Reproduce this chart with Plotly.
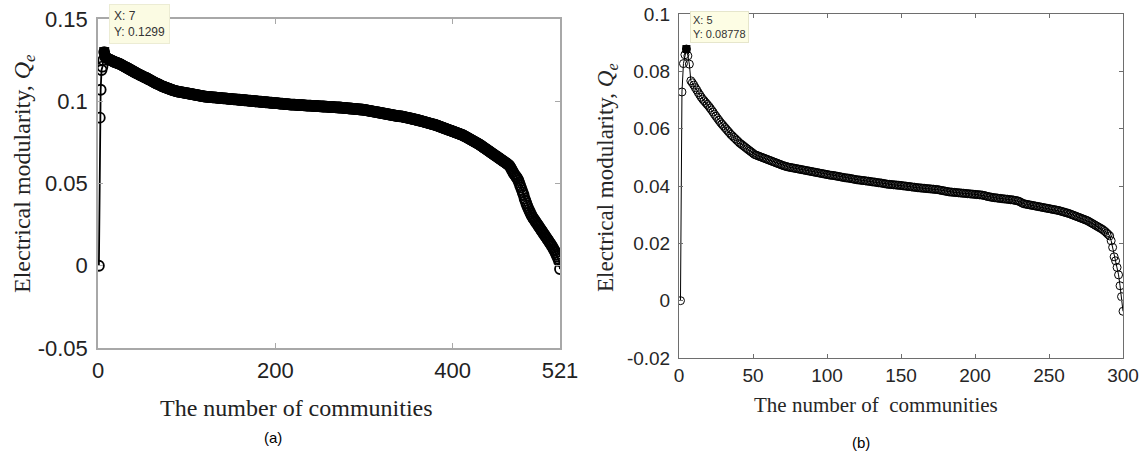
import plotly.graph_objects as go

# ---------------- data: panel (a) ----------------
qe_a = [
    0.0000, 0.0900, 0.1070, 0.1190, 0.1210, 0.1250, 0.1299, 0.1270, 0.1266, 0.1262,
    0.1259, 0.1256, 0.1253, 0.1251, 0.1249, 0.1246, 0.1243, 0.1240, 0.1238, 0.1236,
    0.1234, 0.1232, 0.1230, 0.1228, 0.1226, 0.1223, 0.1220, 0.1217, 0.1214, 0.1211,
    0.1208, 0.1205, 0.1202, 0.1199, 0.1196, 0.1193, 0.1190, 0.1187, 0.1184, 0.1181,
    0.1178, 0.1175, 0.1172, 0.1169, 0.1166, 0.1163, 0.1160, 0.1158, 0.1156, 0.1153,
    0.1150, 0.1147, 0.1145, 0.1143, 0.1140, 0.1137, 0.1134, 0.1131, 0.1128, 0.1125,
    0.1122, 0.1119, 0.1116, 0.1113, 0.1110, 0.1108, 0.1106, 0.1104, 0.1101, 0.1098,
    0.1095, 0.1092, 0.1090, 0.1088, 0.1086, 0.1084, 0.1082, 0.1080, 0.1078, 0.1076,
    0.1074, 0.1072, 0.1070, 0.1068, 0.1066, 0.1065, 0.1063, 0.1062, 0.1060, 0.1059,
    0.1058, 0.1057, 0.1056, 0.1055, 0.1054, 0.1053, 0.1052, 0.1051, 0.1050, 0.1049,
    0.1048, 0.1047, 0.1046, 0.1045, 0.1044, 0.1043, 0.1042, 0.1041, 0.1040, 0.1039,
    0.1038, 0.1037, 0.1036, 0.1035, 0.1034, 0.1033, 0.1032, 0.1031, 0.1030, 0.1029,
    0.1028, 0.1028, 0.1027, 0.1027, 0.1026, 0.1026, 0.1025, 0.1025, 0.1024, 0.1024,
    0.1023, 0.1023, 0.1022, 0.1022, 0.1021, 0.1021, 0.1020, 0.1020, 0.1019, 0.1019,
    0.1018, 0.1018, 0.1017, 0.1017, 0.1016, 0.1016, 0.1015, 0.1015, 0.1014, 0.1014,
    0.1013, 0.1013, 0.1012, 0.1012, 0.1011, 0.1011, 0.1010, 0.1010, 0.1009, 0.1009,
    0.1008, 0.1008, 0.1007, 0.1007, 0.1006, 0.1006, 0.1005, 0.1005, 0.1004, 0.1004,
    0.1003, 0.1003, 0.1002, 0.1002, 0.1001, 0.1001, 0.1000, 0.1000, 0.0999, 0.0999,
    0.0998, 0.0998, 0.0997, 0.0997, 0.0996, 0.0996, 0.0995, 0.0995, 0.0994, 0.0994,
    0.0993, 0.0993, 0.0992, 0.0992, 0.0991, 0.0991, 0.0990, 0.0990, 0.0989, 0.0989,
    0.0988, 0.0988, 0.0987, 0.0987, 0.0986, 0.0986, 0.0985, 0.0985, 0.0984, 0.0984,
    0.0983, 0.0983, 0.0982, 0.0982, 0.0981, 0.0981, 0.0980, 0.0980, 0.0980, 0.0979,
    0.0979, 0.0979, 0.0978, 0.0978, 0.0978, 0.0977, 0.0977, 0.0977, 0.0976, 0.0976,
    0.0976, 0.0975, 0.0975, 0.0975, 0.0974, 0.0974, 0.0974, 0.0973, 0.0973, 0.0973,
    0.0972, 0.0972, 0.0972, 0.0971, 0.0971, 0.0971, 0.0970, 0.0970, 0.0970, 0.0969,
    0.0969, 0.0969, 0.0968, 0.0968, 0.0968, 0.0967, 0.0967, 0.0967, 0.0966, 0.0966,
    0.0966, 0.0965, 0.0965, 0.0965, 0.0964, 0.0964, 0.0964, 0.0963, 0.0963, 0.0963,
    0.0962, 0.0962, 0.0962, 0.0961, 0.0961, 0.0960, 0.0960, 0.0959, 0.0959, 0.0958,
    0.0958, 0.0957, 0.0957, 0.0956, 0.0956, 0.0955, 0.0955, 0.0954, 0.0954, 0.0953,
    0.0953, 0.0952, 0.0952, 0.0951, 0.0951, 0.0950, 0.0950, 0.0949, 0.0949, 0.0948,
    0.0947, 0.0946, 0.0945, 0.0944, 0.0943, 0.0942, 0.0941, 0.0940, 0.0939, 0.0938,
    0.0937, 0.0936, 0.0935, 0.0934, 0.0933, 0.0932, 0.0931, 0.0930, 0.0929, 0.0928,
    0.0927, 0.0926, 0.0925, 0.0924, 0.0923, 0.0922, 0.0921, 0.0920, 0.0919, 0.0918,
    0.0917, 0.0916, 0.0915, 0.0914, 0.0913, 0.0912, 0.0911, 0.0910, 0.0909, 0.0908,
    0.0909, 0.0908, 0.0907, 0.0906, 0.0905, 0.0903, 0.0902, 0.0901, 0.0900, 0.0899,
    0.0897, 0.0896, 0.0895, 0.0894, 0.0892, 0.0891, 0.0890, 0.0889, 0.0887, 0.0886,
    0.0885, 0.0883, 0.0882, 0.0881, 0.0879, 0.0878, 0.0876, 0.0875, 0.0873, 0.0872,
    0.0870, 0.0869, 0.0867, 0.0866, 0.0864, 0.0863, 0.0861, 0.0860, 0.0858, 0.0857,
    0.0855, 0.0853, 0.0851, 0.0849, 0.0847, 0.0845, 0.0843, 0.0841, 0.0839, 0.0837,
    0.0835, 0.0833, 0.0831, 0.0829, 0.0827, 0.0825, 0.0823, 0.0821, 0.0819, 0.0817,
    0.0815, 0.0813, 0.0811, 0.0809, 0.0807, 0.0805, 0.0803, 0.0801, 0.0799, 0.0797,
    0.0795, 0.0792, 0.0789, 0.0786, 0.0783, 0.0780, 0.0777, 0.0774, 0.0771, 0.0768,
    0.0765, 0.0762, 0.0759, 0.0756, 0.0753, 0.0750, 0.0747, 0.0744, 0.0741, 0.0738,
    0.0734, 0.0730, 0.0727, 0.0723, 0.0719, 0.0715, 0.0712, 0.0708, 0.0704, 0.0700,
    0.0697, 0.0693, 0.0689, 0.0685, 0.0682, 0.0678, 0.0674, 0.0670, 0.0667, 0.0663,
    0.0659, 0.0655, 0.0652, 0.0648, 0.0644, 0.0640, 0.0637, 0.0633, 0.0629, 0.0625,
    0.0621, 0.0617, 0.0613, 0.0609, 0.0600, 0.0590, 0.0580, 0.0570, 0.0560, 0.0552,
    0.0545, 0.0538, 0.0530, 0.0520, 0.0505, 0.0490, 0.0475, 0.0460, 0.0445, 0.0430,
    0.0410, 0.0395, 0.0380, 0.0365, 0.0352, 0.0340, 0.0328, 0.0317, 0.0306, 0.0296,
    0.0288, 0.0280, 0.0272, 0.0264, 0.0256, 0.0248, 0.0240, 0.0232, 0.0224, 0.0216,
    0.0208, 0.0200, 0.0192, 0.0184, 0.0176, 0.0168, 0.0160, 0.0152, 0.0144, 0.0136,
    0.0128, 0.0119, 0.0110, 0.0100, 0.0090, 0.0079, 0.0067, 0.0055, 0.0042, 0.0028,
    -0.0020,
]
x_a = list(range(1, len(qe_a) + 1))
xticks_a = [0, 200, 400, 521]
yticks_a = [-0.05, 0, 0.05, 0.1, 0.15]
yticklabels_a = ["-0.05", "0", "0.05", "0.1", "0.15"]

# ---------------- data: panel (b) ----------------
qe_b = [
    0.0000, 0.0728, 0.0827, 0.0858, 0.08778, 0.0854, 0.0825, 0.0767, 0.0760, 0.0752,
    0.0743, 0.0735, 0.0726, 0.0718, 0.0710, 0.0703, 0.0697, 0.0691, 0.0685, 0.0679,
    0.0672, 0.0665, 0.0658, 0.0650, 0.0643, 0.0636, 0.0629, 0.0622, 0.0616, 0.0610,
    0.0604, 0.0598, 0.0592, 0.0586, 0.0580, 0.0575, 0.0570, 0.0565, 0.0560, 0.0555,
    0.0550, 0.0546, 0.0542, 0.0538, 0.0534, 0.0530, 0.0526, 0.0522, 0.0518, 0.0514,
    0.0510, 0.0508, 0.0506, 0.0504, 0.0502, 0.0500, 0.0498, 0.0496, 0.0494, 0.0492,
    0.0490, 0.0488, 0.0486, 0.0484, 0.0482, 0.0480, 0.0478, 0.0476, 0.0474, 0.0472,
    0.0470, 0.0469, 0.0467, 0.0466, 0.0465, 0.0464, 0.0463, 0.0462, 0.0461, 0.0460,
    0.0459, 0.0458, 0.0457, 0.0456, 0.0455, 0.0454, 0.0453, 0.0452, 0.0451, 0.0450,
    0.0449, 0.0448, 0.0447, 0.0446, 0.0445, 0.0444, 0.0443, 0.0442, 0.0441, 0.0440,
    0.0439, 0.0438, 0.0437, 0.0437, 0.0436, 0.0435, 0.0434, 0.0433, 0.0432, 0.0431,
    0.0430, 0.0429, 0.0428, 0.0428, 0.0427, 0.0426, 0.0425, 0.0424, 0.0423, 0.0422,
    0.0421, 0.0421, 0.0420, 0.0419, 0.0419, 0.0418, 0.0417, 0.0417, 0.0416, 0.0415,
    0.0414, 0.0414, 0.0413, 0.0412, 0.0411, 0.0411, 0.0410, 0.0409, 0.0408, 0.0407,
    0.0406, 0.0406, 0.0405, 0.0405, 0.0404, 0.0404, 0.0403, 0.0403, 0.0402, 0.0402,
    0.0401, 0.0400, 0.0400, 0.0399, 0.0398, 0.0398, 0.0397, 0.0396, 0.0396, 0.0395,
    0.0394, 0.0394, 0.0393, 0.0393, 0.0392, 0.0392, 0.0391, 0.0391, 0.0390, 0.0390,
    0.0389, 0.0389, 0.0388, 0.0388, 0.0387, 0.0386, 0.0385, 0.0384, 0.0383, 0.0382,
    0.0381, 0.0380, 0.0379, 0.0379, 0.0378, 0.0378, 0.0377, 0.0377, 0.0376, 0.0376,
    0.0375, 0.0375, 0.0374, 0.0374, 0.0373, 0.0373, 0.0372, 0.0372, 0.0371, 0.0371,
    0.0370, 0.0370, 0.0369, 0.0369, 0.0368, 0.0367, 0.0366, 0.0364, 0.0363, 0.0362,
    0.0361, 0.0360, 0.0359, 0.0359, 0.0358, 0.0357, 0.0357, 0.0356, 0.0355, 0.0355,
    0.0354, 0.0354, 0.0353, 0.0352, 0.0352, 0.0351, 0.0350, 0.0349, 0.0348, 0.0346,
    0.0343, 0.0340, 0.0338, 0.0337, 0.0336, 0.0335, 0.0334, 0.0333, 0.0332, 0.0331,
    0.0330, 0.0329, 0.0328, 0.0327, 0.0326, 0.0325, 0.0324, 0.0323, 0.0322, 0.0321,
    0.0320, 0.0319, 0.0318, 0.0317, 0.0316, 0.0315, 0.0314, 0.0312, 0.0311, 0.0309,
    0.0308, 0.0306, 0.0305, 0.0303, 0.0301, 0.0299, 0.0297, 0.0295, 0.0293, 0.0291,
    0.0289, 0.0287, 0.0285, 0.0283, 0.0281, 0.0279, 0.0276, 0.0273, 0.0270, 0.0267,
    0.0264, 0.0261, 0.0258, 0.0255, 0.0252, 0.0249, 0.0245, 0.0241, 0.0236, 0.0231,
    0.0226, 0.0209, 0.0186, 0.0153, 0.0139, 0.0116, 0.0090, 0.0052, 0.0014, -0.0037,
]
x_b = list(range(1, len(qe_b) + 1))
xticks_b = [0, 50, 100, 150, 200, 250, 300]
yticks_b = [-0.02, 0, 0.02, 0.04, 0.06, 0.08, 0.1]
yticklabels_b = ["-0.02", "0", "0.02", "0.04", "0.06", "0.08", "0.1"]

xtitle_a = "The number of communities"
xtitle_b = "The number of  communities"
ytitle = "Electrical modularity, <i>Q<sub>e</sub></i>"

W, H = 1145, 455


def px_x(p):
    return p / W


def px_y(p):
    return 1 - p / H


# peaks (datatips)
ia = max(range(len(qe_a)), key=lambda i: qe_a[i])
ib = max(range(len(qe_b)), key=lambda i: qe_b[i])

fig = go.Figure()

fig.add_trace(go.Scatter(
    x=x_a, y=qe_a, mode="lines+markers", xaxis="x", yaxis="y",
    line=dict(color="black", width=1.8),
    marker=dict(symbol="circle-open", size=10, color="black", line=dict(width=1.8)),
    showlegend=False, hoverinfo="skip"))
fig.add_trace(go.Scatter(
    x=[x_a[ia]], y=[qe_a[ia]], mode="markers", xaxis="x", yaxis="y",
    marker=dict(symbol="square", size=10, color="black"),
    showlegend=False, hoverinfo="skip"))

fig.add_trace(go.Scatter(
    x=x_b, y=qe_b, mode="lines+markers", xaxis="x2", yaxis="y2",
    line=dict(color="black", width=1),
    marker=dict(symbol="circle-open", size=8, color="black", line=dict(width=1)),
    showlegend=False, hoverinfo="skip"))
fig.add_trace(go.Scatter(
    x=[x_b[ib]], y=[qe_b[ib]], mode="markers", xaxis="x2", yaxis="y2",
    marker=dict(symbol="square", size=8, color="black"),
    showlegend=False, hoverinfo="skip"))

axis_common = dict(showgrid=False, zeroline=False, showline=True, mirror="ticks",
                   ticks="inside", automargin=False)

fig.update_layout(
    width=W, height=H,
    margin=dict(l=0, r=0, t=0, b=0, autoexpand=False),
    paper_bgcolor="white", plot_bgcolor="white",
    xaxis=dict(domain=[px_x(98), px_x(560)], range=[0, 521],
               tickvals=xticks_a, ticktext=[str(v) for v in xticks_a],
               ticklabelstandoff=2,
               linecolor="#a8a8a8", linewidth=1.5, tickcolor="#a8a8a8", ticklen=5,
               tickfont=dict(family="Liberation Sans, Arial", size=22, color="#222"),
               anchor="y", **axis_common),
    yaxis=dict(domain=[px_y(348), px_y(19)], range=[-0.05, 0.15],
               tickvals=yticks_a, ticktext=yticklabels_a, ticklabelstandoff=4,
               linecolor="#a8a8a8", linewidth=1.5, tickcolor="#a8a8a8", ticklen=5,
               tickfont=dict(family="Liberation Sans, Arial", size=22, color="#222"),
               anchor="x", **axis_common),
    xaxis2=dict(domain=[px_x(679), px_x(1123)], range=[0, 300],
                tickvals=xticks_b, ticktext=[str(v) for v in xticks_b],
                linecolor="#6e6e6e", linewidth=1, tickcolor="#6e6e6e", ticklen=4,
                tickfont=dict(family="Liberation Sans, Arial", size=19, color="#262626"),
                anchor="y2", **axis_common),
    yaxis2=dict(domain=[px_y(358), px_y(14)], range=[-0.02, 0.1],
                tickvals=yticks_b, ticktext=yticklabels_b, ticklabelstandoff=4,
                linecolor="#6e6e6e", linewidth=1, tickcolor="#6e6e6e", ticklen=4,
                tickfont=dict(family="Liberation Sans, Arial", size=19, color="#262626"),
                anchor="x2", **axis_common),
)

serif = "Liberation Serif, Times New Roman, serif"
sans = "Liberation Sans, Arial, sans-serif"
ann = [
    # axis titles
    dict(text=xtitle_a, x=px_x(296), y=px_y(408), xref="paper", yref="paper",
         showarrow=False, font=dict(family=serif, size=24, color="#222"),
         xanchor="center", yanchor="middle"),
    dict(text=ytitle, x=px_x(24), y=px_y(174), xref="paper", yref="paper",
         showarrow=False, textangle=-90, font=dict(family=serif, size=24, color="#222"),
         xanchor="center", yanchor="middle"),
    dict(text=xtitle_b, x=px_x(876), y=px_y(405), xref="paper", yref="paper",
         showarrow=False, font=dict(family=serif, size=21, color="#262626"),
         xanchor="center", yanchor="middle"),
    dict(text=ytitle, x=px_x(607), y=px_y(178), xref="paper", yref="paper",
         showarrow=False, textangle=-90, font=dict(family=serif, size=23, color="#262626"),
         xanchor="center", yanchor="middle"),
    # captions
    dict(text="(a)", x=px_x(273), y=px_y(437), xref="paper", yref="paper",
         showarrow=False, font=dict(family=sans, size=15, color="black"),
         xanchor="center", yanchor="middle"),
    dict(text="(b)", x=px_x(861), y=px_y(442), xref="paper", yref="paper",
         showarrow=False, font=dict(family=sans, size=15, color="black"),
         xanchor="center", yanchor="middle"),
    # datatips
    dict(text=f"X: {x_a[ia]}<br>Y: {qe_a[ia]:.4g}", x=x_a[ia], y=qe_a[ia],
         xref="x", yref="y", showarrow=False, xanchor="left", yanchor="bottom",
         xshift=5, yshift=8, align="left",
         font=dict(family=sans, size=12, color="#333"),
         bgcolor="#fbfbe3", bordercolor="#ececd4", borderwidth=1, borderpad=4),
    dict(text=f"X: {x_b[ib]}<br>Y: {qe_b[ib]:.4g}", x=x_b[ib], y=qe_b[ib],
         xref="x2", yref="y2", showarrow=False, xanchor="left", yanchor="bottom",
         xshift=4, yshift=6, align="left",
         font=dict(family=sans, size=11, color="#333"),
         bgcolor="#fdfde4", bordercolor="#e6e6cc", borderwidth=1, borderpad=2),
]
fig.update_layout(annotations=ann)

fig.write_html("out.html")
